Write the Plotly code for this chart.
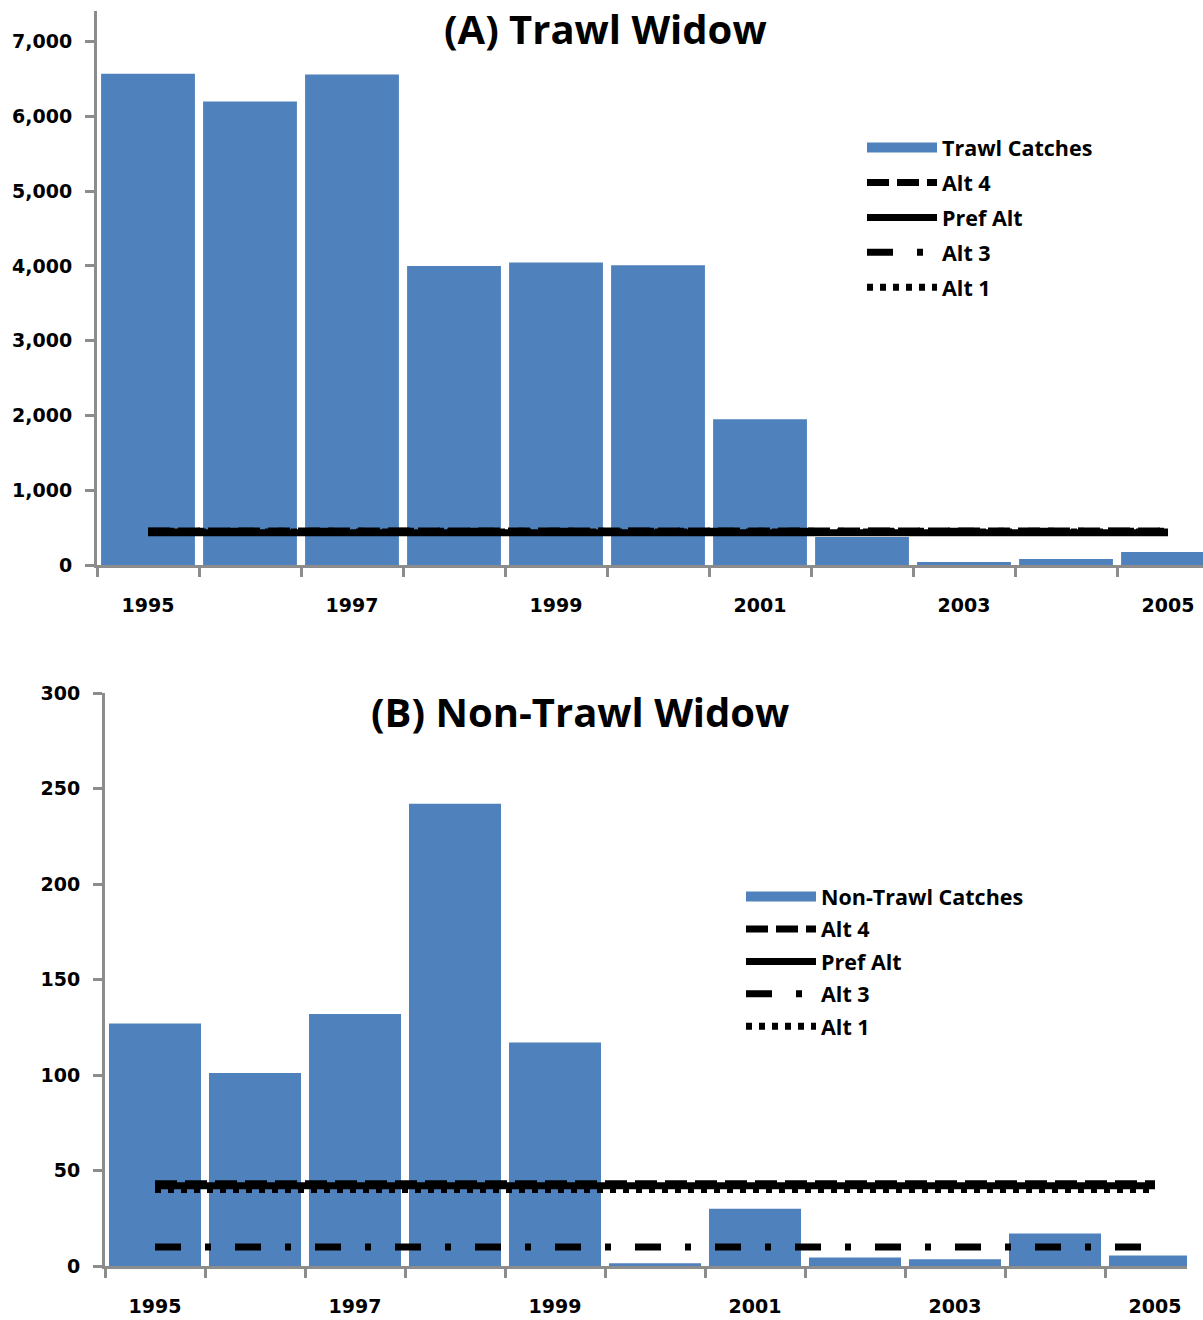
import plotly.graph_objects as go

# ---- data -------------------------------------------------------------
years = [1995, 1996, 1997, 1998, 1999, 2000, 2001, 2002, 2003, 2004, 2005]
label_years = [1995, 1997, 1999, 2001, 2003, 2005]

trawl_catches = [6570, 6200, 6560, 4000, 4045, 4010, 1950, 375, 40, 80, 175]
trawl_alt4 = [455] * 11
trawl_pref = [430] * 11
trawl_alt3 = [450] * 11
trawl_alt1 = [440] * 11

nontrawl_catches = [127, 101, 132, 242, 117, 1.5, 30, 4.5, 3.5, 17, 5.5]
nontrawl_alt4 = [43] * 11
nontrawl_pref = [42] * 11
nontrawl_alt3 = [10] * 11
nontrawl_alt1 = [40] * 11

trawl_ticks = [0, 1000, 2000, 3000, 4000, 5000, 6000, 7000]
nontrawl_ticks = [0, 50, 100, 150, 200, 250, 300]

# ---- styling ----------------------------------------------------------
W, H = 1203, 1320
BLUE = "#4F81BD"
GREY = "#8C8C8C"
TICK_FONT = dict(family="DejaVu Sans", size=19, color="black", weight="bold")
LEG_FONT = dict(family="Open Sans", size=21.5, color="black", weight="bold")
TITLE_FONT = dict(family="Open Sans", size=40, color="black", weight="bold")

line_styles = [
    ("Alt 4", "22px,8px"),
    ("Pref Alt", "solid"),
    ("Alt 3", "26px,24px,6px,24px"),
    ("Alt 1", "6px,7px"),
]

fig = go.Figure()


def add_panel(catches, alts, name, xa, ya, legend):
    # legend swatch for the bar series
    fig.add_trace(go.Scatter(
        x=[None], y=[None], mode="lines", name=name,
        line=dict(color=BLUE, width=16),
        xaxis=xa, yaxis=ya, legend=legend, legendgroup=legend + name,
    ))
    fig.add_trace(go.Bar(
        x=years, y=catches, width=0.92, name=name, showlegend=False,
        marker=dict(color=BLUE, line=dict(width=0)),
        xaxis=xa, yaxis=ya, legendgroup=legend + name,
    ))
    for (lab, dash), vals in zip(line_styles, alts):
        fig.add_trace(go.Scatter(
            x=years, y=vals, mode="lines", name=lab,
            line=dict(color="black", width=7, dash=dash),
            xaxis=xa, yaxis=ya, legend=legend, legendgroup=legend + lab,
        ))


add_panel(trawl_catches, [trawl_alt4, trawl_pref, trawl_alt3, trawl_alt1],
          "Trawl Catches", "x", "y", "legend")
add_panel(nontrawl_catches, [nontrawl_alt4, nontrawl_pref, nontrawl_alt3, nontrawl_alt1],
          "Non-Trawl Catches", "x2", "y2", "legend2")

boundaries = [y - 0.5 for y in years] + [years[-1] + 0.5]

xaxis_common = dict(
    tickmode="array", tickvals=label_years, ticktext=[str(v) for v in label_years],
    ticks="", showgrid=False, zeroline=False, automargin=False,
    showline=True, linecolor=GREY, linewidth=3,
    tickfont=TICK_FONT, ticklabelstandoff=21,
    minor=dict(tickmode="array", tickvals=boundaries, ticks="outside",
               ticklen=9, tickwidth=3, tickcolor=GREY, showgrid=False),
)
yaxis_common = dict(
    showgrid=False, zeroline=False, showline=True, linecolor=GREY, linewidth=3,
    ticks="outside", ticklen=9, tickwidth=3, tickcolor=GREY, automargin=False,
    tickfont=TICK_FONT, ticklabelstandoff=9, tickmode="array",
)

fig.update_layout(
    width=W, height=H,
    margin=dict(l=0, r=0, t=0, b=0),
    paper_bgcolor="white", plot_bgcolor="white",
    barmode="overlay",
    showlegend=True,
    xaxis=dict(xaxis_common, domain=[97 / W, 1.0], range=[1994.5, 2005.343], anchor="y"),
    yaxis=dict(yaxis_common, domain=[(H - 565) / H, (H - 11) / H], range=[0, 7410],
               tickvals=trawl_ticks, tickformat=",", anchor="x"),
    xaxis2=dict(xaxis_common, domain=[105 / W, 1187 / W], range=[1994.5, 2005.32], anchor="y2"),
    yaxis2=dict(yaxis_common, domain=[54 / H, (H - 693) / H], range=[0, 300],
                tickvals=nontrawl_ticks, anchor="x2"),
    legend=dict(x=862 / W, y=(H - 127) / H, xanchor="left", yanchor="top",
                font=LEG_FONT, itemwidth=70, tracegroupgap=4,
                bgcolor="rgba(0,0,0,0)", traceorder="grouped"),
    legend2=dict(x=741 / W, y=(H - 876) / H, xanchor="left", yanchor="top",
                 font=LEG_FONT, itemwidth=70, tracegroupgap=1.5,
                 bgcolor="rgba(0,0,0,0)", traceorder="grouped"),
    annotations=[
        dict(text="(A) Trawl Widow", x=605 / W, y=(H - 28) / H, xref="paper", yref="paper",
             showarrow=False, font=TITLE_FONT, xanchor="center", yanchor="middle"),
        dict(text="(B) Non-Trawl Widow", x=580 / W, y=(H - 712) / H, xref="paper", yref="paper",
             showarrow=False, font=TITLE_FONT, xanchor="center", yanchor="middle"),
    ],
)

fig.write_html("out.html")
